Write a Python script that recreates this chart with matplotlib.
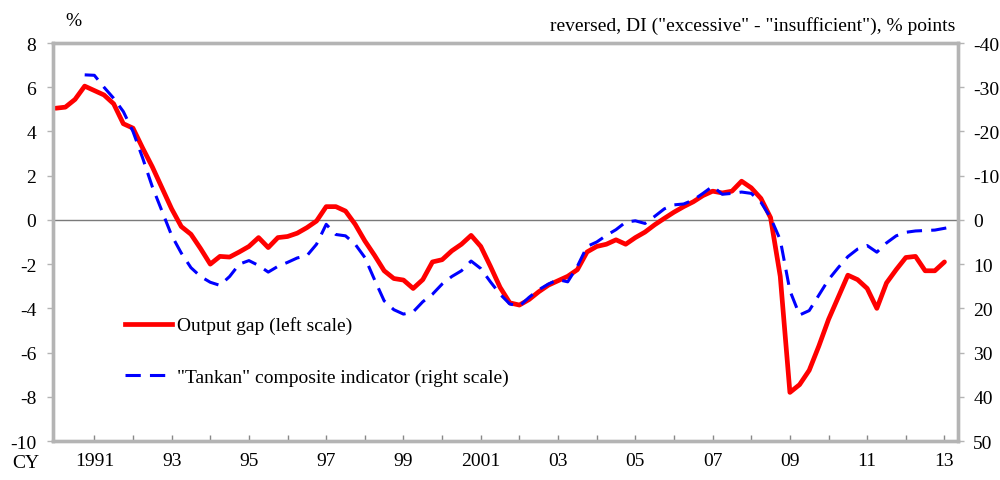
import numpy as np
import matplotlib
matplotlib.use("Agg")
import matplotlib.pyplot as plt
from matplotlib.lines import Line2D

plt.rcParams['font.family'] = ['Liberation Serif', 'DejaVu Serif']
plt.rcParams['axes.unicode_minus'] = False

# quarterly data, 1990Q1 .. 2013Q2
start_year = 1990
output_gap = [
    5.05, 5.1, 5.45, 6.05, 5.85, 5.65, 5.25, 4.35,          # 1990-91
    4.15, 3.25, 2.4, 1.45, 0.5, -0.3, -0.65, -1.3,          # 1992-93
    -2.0, -1.65, -1.68, -1.45, -1.2, -0.8, -1.25, -0.8,      # 1994-95
    -0.75, -0.6, -0.35, -0.05, 0.6, 0.6, 0.4, -0.2,          # 1996-97
    -0.95, -1.6, -2.3, -2.65, -2.72, -3.1, -2.7, -1.9,       # 1998-99
    -1.8, -1.4, -1.1, -0.7, -1.2, -2.1, -3.05, -3.75,        # 2000-01
    -3.85, -3.6, -3.25, -2.95, -2.75, -2.55, -2.25, -1.45,   # 2002-03
    -1.2, -1.1, -0.9, -1.1, -0.8, -0.55, -0.22, 0.07,        # 2004-05
    0.35, 0.6, 0.82, 1.1, 1.3, 1.22, 1.3, 1.75,              # 2006-07
    1.45, 0.97, 0.1, -2.55, -7.8, -7.45, -6.8, -5.7,         # 2008-09
    -4.5, -3.5, -2.5, -2.7, -3.1, -4.0, -2.85, -2.25,        # 2010-11
    -1.7, -1.65, -2.3, -2.3, -1.9, np.nan,                   # 2012-13
]
# Tankan composite indicator, reversed DI, % points (right scale)
tankan = [
    np.nan, np.nan, np.nan, -32.8, -32.7, -30.0, -27.5, -24.5,
    -20.0, -14.0, -7.5, -2.0, 3.5, 7.5, 10.8, 12.8,
    14.1, 14.8, 12.8, 10.0, 9.2, 10.3, 11.8, 10.5,
    9.6, 8.6, 8.1, 5.5, 1.0, 3.3, 3.6, 5.5,
    8.5, 13.5, 18.3, 20.3, 21.3, 20.8, 18.5, 16.8,
    14.5, 12.8, 11.5, 9.3, 11.0, 14.0, 16.8, 19.0,
    19.5, 17.5, 15.8, 14.5, 13.5, 14.0, 10.5, 6.0,
    5.0, 3.5, 2.2, 0.5, 0.2, 0.8, -0.8, -2.5,
    -3.4, -3.6, -4.5, -6.0, -7.6, -5.8, -6.0, -6.3,
    -6.0, -4.0, -0.5, 4.5, 16.0, 21.5, 20.5, 17.0,
    13.5, 10.8, 8.3, 6.6, 5.8, 7.3, 5.2, 3.6,
    2.8, 2.5, 2.4, 2.3, 1.9, 1.5,
]
tick_years = list(range(1991, 2014))
tick_labels = ['1991' if y == 1991 else ('2001' if y == 2001 else f"{y % 100:02d}") if y % 2 == 1 else ''
               for y in tick_years]

x = start_year + np.arange(len(output_gap)) / 4
fs = 14

fig = plt.figure(figsize=(10, 4.81), dpi=100)
ax = fig.add_axes([0.053, 0.081, 0.905, 0.8275])
ax2 = ax.twinx()

grey = '#b4b4b4'
ax.axhline(0, color='#7a7a7a', lw=1.0, zorder=1)
red, = ax.plot(x, output_gap, color='#ff0000', lw=3.4, solid_joinstyle='round',
               solid_capstyle='round', zorder=3)
blue, = ax2.plot(x, tankan, color='#0000ff', lw=2.2, dashes=(5, 3), zorder=2)

ax.set_xlim(1989.93, 2013.35)
ax.set_ylim(-10, 8)
ax.set_yticks(range(-10, 9, 2))
ax2.set_ylim(50, -40)
ax2.set_yticks(range(-40, 51, 10))

ax.set_xticks(tick_years)
ax.set_xticklabels(tick_labels)

for a in (ax, ax2):
    for s in a.spines.values():
        s.set_color(grey)
        s.set_linewidth(2.4)
ax.tick_params(axis='y', direction='out', length=4, width=1, color=grey,
               labelsize=fs, pad=8)
ax2.tick_params(axis='y', direction='out', length=4, width=1, color=grey,
                labelsize=fs, pad=7)
ax.tick_params(axis='x', direction='in', length=4, width=1, color='#888888',
               labelsize=fs, pad=8)

fig.text(0.065, 0.955, '%', fontsize=fs, ha='left', va='center')
fig.text(0.955, 0.945,
         'reversed, DI ("excessive" - "insufficient"), % points',
         fontsize=fs, ha='right', va='center')
fig.text(0.012, 0.037, 'CY', fontsize=fs, ha='left', va='center')

handles = [
    Line2D([], [], color='#ff0000', lw=3.4),
    Line2D([], [], color='#0000ff', lw=2.2, dashes=(5, 3)),
]
ax.legend(handles, ['Output gap (left scale)',
                    '"Tankan" composite indicator (right scale)'],
          loc='upper left', bbox_to_anchor=(0.08, 0.313), frameon=False,
          fontsize=fs, handlelength=2.4, handletextpad=0.25,
          labelspacing=1.73, borderpad=0, borderaxespad=0)

fig.savefig('out.png', dpi=100, facecolor='white')
